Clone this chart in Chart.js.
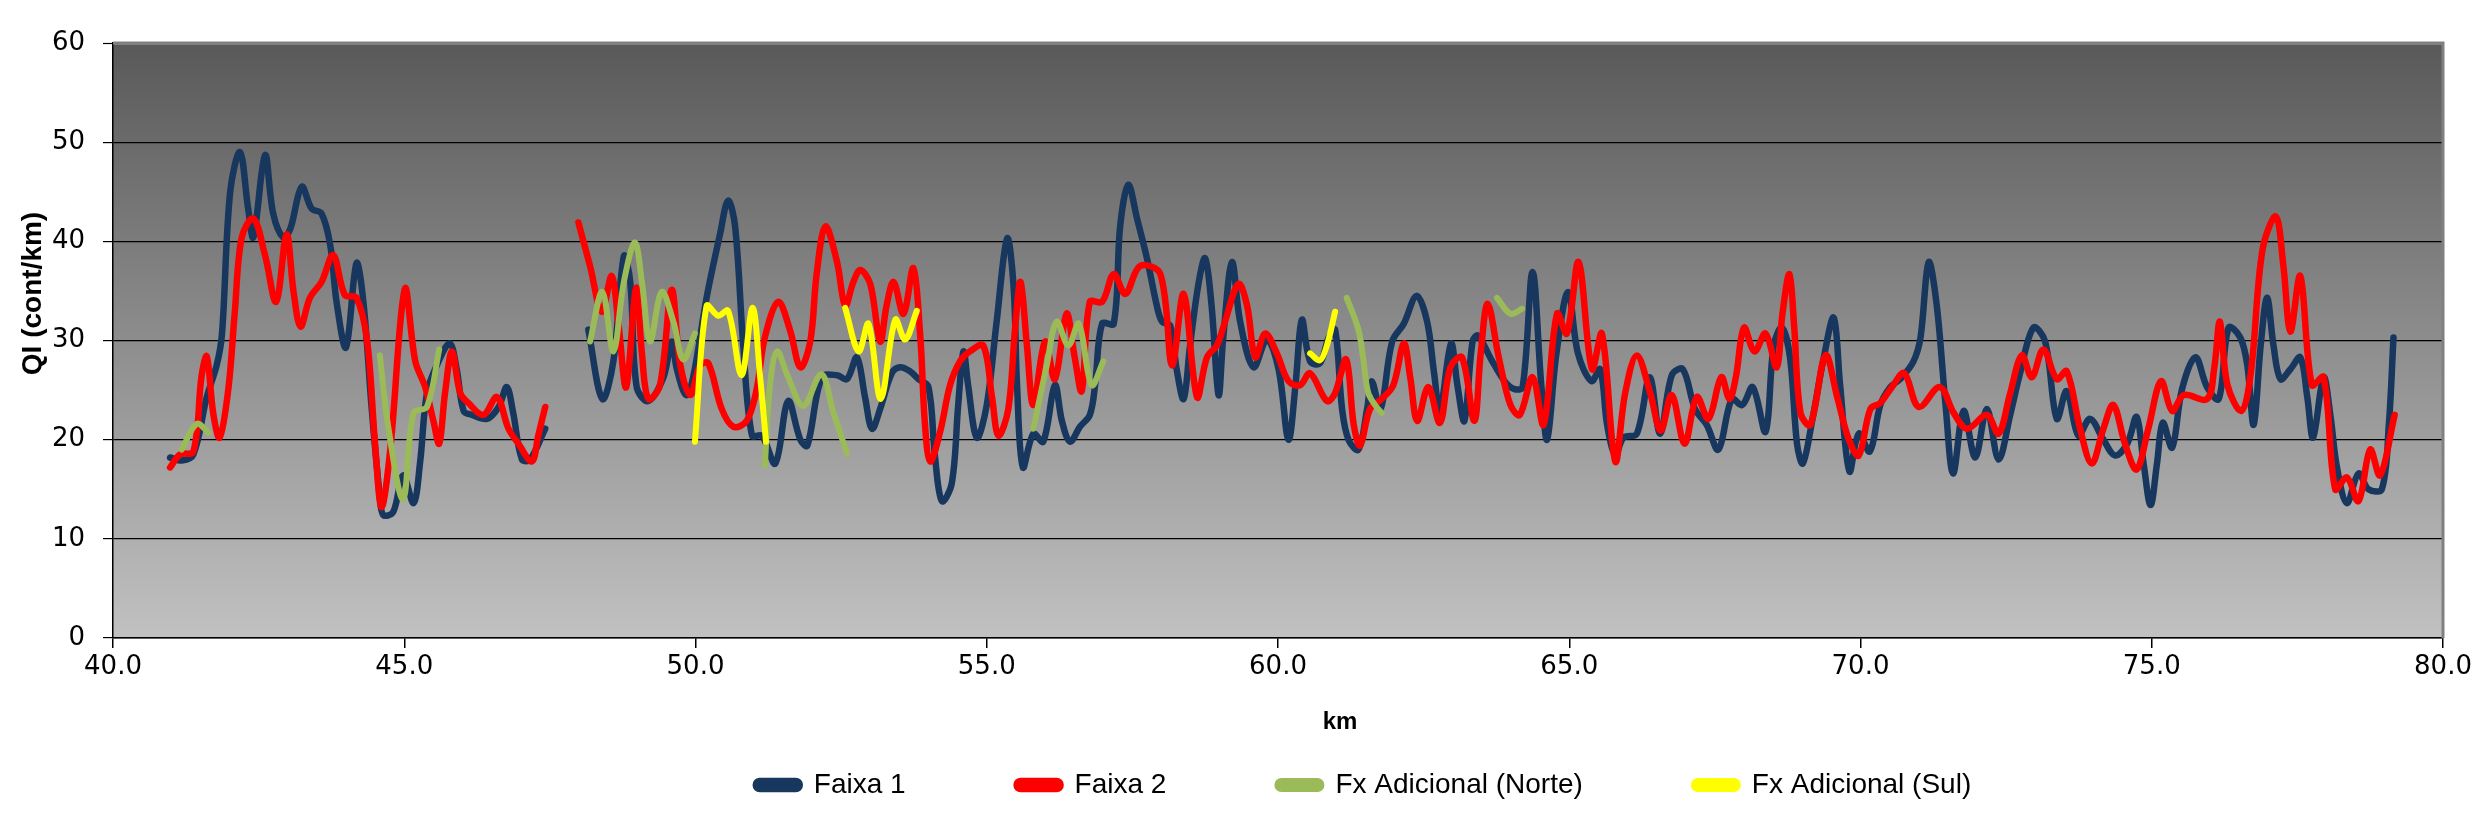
<!DOCTYPE html>
<html>
<head>
<meta charset="utf-8">
<script src="https://cdn.jsdelivr.net/npm/chart.js@4.4.1/dist/chart.umd.min.js"></script>
<style>
html,body{margin:0;padding:0;background:#ffffff;}
canvas{display:block;}
</style>
</head>
<body>
<canvas id="chart" width="2491" height="822"></canvas>
<script>
// ---------- text ----------
const xTitle = 'km';
const yTitle = 'QI (cont/km)';
const seriesNames = ['Faixa 1', 'Faixa 2', 'Fx Adicional (Norte)', 'Fx Adicional (Sul)'];
const seriesColors = ['#17375E', '#FF0000', '#9BBB59', '#FFFF00'];

// ---------- axis ranges ----------
const xMin = 40, xMax = 80, xStep = 5;
const yMin = 0, yMax = 60, yStep = 10;

// ---------- Faixa 1 ----------
const faixa1Km = [40.98,41.18,41.38,41.61,41.78,41.87,42.01,42.18,42.32,42.41,42.61,42.75,42.92,43.04,43.24,43.41,43.58,43.73,43.84,44.00,44.18,44.30,44.44,44.58,44.64,44.81,44.98,45.16,45.27,45.39,45.56,45.78,45.90,46.02,46.16,46.42,46.62,46.76,46.87,47.02,47.16,47.42,
47.80,
48.16,48.40,48.59,48.77,48.88,48.99,49.19,49.45,49.59,49.68,49.84,49.96,50.19,50.42,50.56,50.68,50.82,50.97,51.14,51.37,51.59,51.80,51.92,52.17,52.43,52.60,52.77,52.91,53.03,53.17,53.37,53.51,53.68,53.83,54.00,54.11,54.23,54.40,54.51,54.60,54.68,54.83,55.00,55.17,55.35,55.46,55.52,55.62,55.80,55.97,56.17,56.29,56.43,56.60,56.77,56.86,56.98,57.18,57.29,57.43,57.58,57.75,57.92,58.01,58.15,58.26,58.38,58.49,58.64,58.75,58.86,58.98,59.06,59.21,59.35,59.58,59.81,60.01,60.18,60.30,60.41,60.55,60.72,60.87,60.98,61.10,61.21,61.38,61.53,61.61,61.76,61.96,62.16,62.38,62.56,62.68,62.78,62.97,63.08,63.20,63.34,63.43,63.66,63.89,64.06,64.20,64.37,64.52,64.62,64.78,64.98,65.15,65.38,65.53,65.65,65.79,65.93,66.16,66.38,66.56,66.76,66.95,67.16,67.36,67.56,67.79,67.97,68.15,68.37,68.51,68.65,68.79,68.91,69.01,69.17,69.37,69.54,69.65,69.81,69.97,70.16,70.34,70.51,70.68,70.91,71.03,71.17,71.31,71.46,71.59,71.77,71.97,72.17,72.37,72.57,72.74,72.97,73.17,73.37,73.54,73.74,73.94,74.17,74.37,74.58,74.74,74.86,74.98,75.09,75.19,75.35,75.52,75.75,75.95,76.15,76.32,76.52,76.64,76.75,76.87,76.98,77.09,77.21,77.38,77.55,77.67,77.77,77.95,78.07,78.18,78.35,78.55,78.72,78.95,79.07,79.15];
const faixa1QI = [18.2,17.9,18.5,24.3,27.5,30.6,44.9,49.0,43.3,40.4,48.7,42.8,40.4,41.2,45.5,43.3,42.8,39.6,33.8,29.3,37.8,33.8,23.2,14.3,12.4,12.7,16.4,13.6,17.6,24.7,27.5,29.7,27.1,22.9,22.5,22.1,23.3,25.3,22.7,18.0,18.0,21.1,
null,
31.1,24.1,27.9,38.5,35.9,25.3,23.9,26.3,29.9,27.1,24.5,26.3,34.3,40.7,44.1,41.5,29.5,20.4,20.4,17.6,23.9,20.0,19.4,26.3,26.5,26.1,28.3,24.3,21.1,23.1,26.7,27.3,26.9,26.1,25.3,18.4,13.8,15.6,23.5,28.9,25.5,20.2,23.5,31.9,40.3,35.5,25.5,17.2,20.6,19.8,25.5,21.9,19.8,21.3,22.5,25.5,31.7,31.7,41.5,45.7,42.3,38.3,33.5,31.9,31.5,27.1,24.1,29.5,35.9,38.3,33.5,24.5,30.3,37.9,31.9,27.3,30.1,27.1,20.0,25.5,32.1,27.9,27.7,30.3,31.1,23.1,20.0,19.0,23.1,25.9,23.1,29.9,31.7,34.5,31.9,26.7,22.9,29.7,25.5,21.9,29.9,30.5,28.1,25.9,25.1,25.3,36.9,25.5,20.0,28.7,34.9,28.7,25.9,27.1,21.5,18.4,20.2,20.6,26.3,20.6,26.5,27.1,23.1,21.5,19.0,24.1,23.5,25.3,20.8,29.5,31.3,28.3,19.6,17.6,21.9,28.3,32.3,25.5,16.8,20.6,18.8,23.5,25.3,26.1,27.9,30.3,37.9,33.5,23.5,16.6,22.9,18.2,23.1,18.0,22.5,26.7,31.3,29.9,22.1,24.9,20.4,22.1,20.0,18.4,19.6,22.3,17.6,13.4,17.6,21.7,19.2,25.1,28.3,25.3,24.1,31.3,30.3,27.5,21.5,29.5,34.3,29.5,26.1,27.1,28.3,24.3,20.2,26.3,22.3,17.2,13.6,16.6,15.0,15.0,21.5,30.3];

// ---------- Faixa 2 ----------
const faixa2Km = [40.98,41.15,41.38,41.52,41.61,41.72,41.83,41.98,42.09,42.21,42.41,42.61,42.80,42.98,43.10,43.22,43.38,43.58,43.78,43.98,44.18,44.36,44.50,44.61,44.76,45.01,45.19,45.36,45.50,45.60,45.70,45.82,45.96,46.10,46.36,46.59,46.79,46.96,47.19,47.30,47.42,
47.70,
47.99,48.19,48.39,48.56,48.68,48.81,48.98,49.08,49.19,49.39,49.59,49.74,49.91,50.08,50.22,50.45,50.65,50.88,51.05,51.19,51.42,51.62,51.80,51.97,52.08,52.23,52.43,52.57,52.71,52.83,53.00,53.17,53.28,53.40,53.57,53.74,53.86,53.94,54.03,54.20,54.37,54.54,54.71,54.94,55.09,55.20,55.37,55.49,55.58,55.69,55.80,56.00,56.17,56.37,56.51,56.63,56.77,56.98,57.18,57.38,57.63,57.98,58.18,58.38,58.61,58.78,58.95,59.07,59.32,59.47,59.61,59.78,59.98,60.18,60.38,60.55,60.84,60.98,61.17,61.30,61.41,61.58,61.78,61.98,62.16,62.27,62.39,62.58,62.78,62.96,63.16,63.37,63.48,63.60,63.79,63.99,64.15,64.37,64.56,64.79,64.96,65.16,65.39,65.56,65.79,65.96,66.16,66.39,66.57,66.76,66.98,67.19,67.39,67.61,67.75,67.86,68.00,68.18,68.37,68.56,68.66,68.78,68.86,68.97,69.14,69.40,69.60,69.80,69.97,70.17,70.34,70.54,70.75,71.00,71.36,71.60,71.83,72.17,72.37,72.57,72.77,72.94,73.14,73.37,73.54,73.77,73.97,74.17,74.34,74.54,74.74,74.94,75.16,75.35,75.55,75.95,76.07,76.17,76.30,76.54,76.70,76.90,77.13,77.26,77.38,77.55,77.75,77.95,78.15,78.35,78.55,78.75,78.92,79.17];
const faixa2QI = [17.2,18.5,18.8,26.4,28.4,22.7,20.2,25.1,32.8,40.4,42.3,38.6,33.9,40.7,34.9,31.4,34.3,35.9,38.6,34.6,34.3,30.1,19.5,13.2,19.0,35.2,27.9,25.3,21.9,19.6,24.7,28.9,24.7,23.7,22.5,24.3,21.1,19.6,17.8,20.4,23.3,
null,
41.9,37.5,32.9,36.5,31.5,25.3,35.3,28.7,24.1,25.5,35.1,27.5,24.5,27.5,27.7,23.1,21.3,21.9,25.1,30.3,33.9,31.1,27.3,29.9,36.7,41.5,37.9,33.5,35.9,37.1,35.7,29.9,33.5,35.9,32.7,37.3,30.3,21.5,17.8,20.8,25.5,27.9,28.9,29.5,24.3,20.4,23.1,31.5,35.9,29.5,23.5,29.9,26.1,32.7,28.3,24.9,33.9,33.9,36.7,34.7,37.5,36.7,27.5,34.7,24.3,28.3,29.5,31.5,35.7,33.5,28.3,30.7,28.7,25.9,25.5,26.7,23.9,24.7,28.1,21.5,19.4,23.1,24.1,25.5,29.7,26.3,21.9,25.3,21.7,27.3,28.3,21.9,28.7,33.7,28.3,23.5,22.5,26.3,21.5,32.7,30.7,37.9,27.1,30.7,17.8,24.7,28.5,24.7,20.9,24.5,19.6,24.3,22.1,26.3,24.1,26.3,31.3,28.9,30.7,27.3,32.7,36.7,31.5,22.7,21.5,28.5,24.3,20.0,18.4,23.1,23.7,25.3,26.7,23.3,25.3,22.7,21.1,22.5,20.6,24.7,28.5,26.3,29.1,26.1,26.9,21.1,17.6,21.1,23.5,19.6,17.0,21.1,25.9,22.9,24.5,24.1,27.1,31.9,25.5,22.9,26.7,39.1,42.5,37.5,30.9,36.5,25.5,26.3,15.0,16.2,13.8,19.0,16.4,22.5];

// ---------- Fx Adicional (Norte) ----------
const norteKm = [41.18,41.44,41.64, 43.00, 44.58,44.73,44.98,45.16,45.39,45.60, 47.00, 48.19,48.40,48.59,48.77,48.96,49.08,49.22,49.42,49.62,49.79,49.99, 50.60, 51.19,51.28,51.40,51.59,51.85,52.16,52.37,52.60, 54.00, 55.80,56.03,56.20,56.40,56.58,56.80,57.00, 59.00, 61.18,61.38,61.46,61.55,61.69,61.78, 62.80, 63.76,63.99,64.19];
const norteQI = [19.0,21.6,20.7, null, 28.5,21.1,14.0,22.7,23.3,29.1, null, 29.9,34.9,28.9,35.9,39.9,35.9,29.9,34.9,31.9,28.1,30.7, null, 17.4,25.5,28.9,26.3,23.4,26.6,22.7,18.6, null, 21.1,27.5,31.9,29.5,31.7,25.5,27.9, null, 34.3,31.1,28.3,24.7,23.3,22.7, null, 34.3,32.7,33.2];

// ---------- Fx Adicional (Sul) ----------
const sulKm = [49.99,50.19,50.39,50.56,50.79,50.98,51.11,51.21, 51.90, 52.57,52.80,52.97,53.18,53.43,53.60,53.80, 57.00, 60.55,60.72,60.84,60.98];
const sulQI = [19.8,33.5,32.5,33.0,26.5,33.3,26.3,19.8, null, 33.3,28.9,31.7,24.1,32.1,30.1,33.0, null, 28.7,28.0,29.5,32.9];

function toPoints(km, qi) { return km.map((k, i) => ({ x: k, y: qi[i] })); }

const seriesKm = [faixa1Km, faixa2Km, norteKm, sulKm];
const seriesQI = [faixa1QI, faixa2QI, norteQI, sulQI];
const seriesWidth = [6.5, 6.5, 6, 6];

const datasets = seriesNames.map((name, i) => ({
  label: name,
  data: toPoints(seriesKm[i], seriesQI[i]),
  borderColor: seriesColors[i],
  backgroundColor: seriesColors[i],
  borderWidth: seriesWidth[i],
  pointRadius: 0,
  pointHoverRadius: 0,
  tension: 0.35,
  fill: false,
  spanGaps: false,
  borderCapStyle: 'round',
  borderJoinStyle: 'round',
  order: seriesNames.length - i
}));

// plot-area gradient and frame
const plotBackground = {
  id: 'plotBackground',
  beforeDraw(chart) {
    const { ctx, chartArea: a } = chart;
    const g = ctx.createLinearGradient(0, a.top, 0, a.bottom);
    g.addColorStop(0, '#595959');
    g.addColorStop(1, '#c1c1c1');
    ctx.save();
    ctx.fillStyle = g;
    ctx.fillRect(a.left, a.top, a.right - a.left, a.bottom - a.top);
    ctx.restore();
  },
  beforeDatasetsDraw(chart) {
    const { ctx, chartArea: a } = chart;
    ctx.save();
    ctx.strokeStyle = '#808080';
    ctx.lineWidth = 3;
    ctx.beginPath();
    ctx.moveTo(a.left, a.top);
    ctx.lineTo(a.right, a.top);
    ctx.lineTo(a.right, a.bottom);
    ctx.stroke();
    ctx.restore();
  }
};

// axis titles placed like the original
const axisTitles = {
  id: 'axisTitles',
  afterDraw(chart) {
    const { ctx, chartArea: a } = chart;
    ctx.save();
    ctx.fillStyle = '#000000';
    ctx.textAlign = 'center';
    ctx.textBaseline = 'middle';
    ctx.font = 'bold 24px "Liberation Sans", Arial, sans-serif';
    ctx.fillText(xTitle, (a.left + a.right) / 2 + 62, a.bottom + 84);
    ctx.translate(a.left - 80, (a.top + a.bottom) / 2 - 47);
    ctx.rotate(-Math.PI / 2);
    ctx.font = 'bold 28px "Liberation Sans", Arial, sans-serif';
    ctx.fillText(yTitle, 0, 0);
    ctx.restore();
  }
};

// place the legend row like the original
const legendPlacement = {
  id: 'legendPlacement',
  afterLayout(chart) {
    const lg = chart.legend;
    if (!lg) return;
    lg.left += 142;
    lg.right += 142;
    lg.top = 660;
    lg.bottom = chart.height;
    lg.height = lg.bottom - lg.top;
  }
};

Chart.defaults.font.family = '"DejaVu Sans", Verdana, sans-serif';
Chart.defaults.color = '#000000';

new Chart(document.getElementById('chart'), {
  type: 'line',
  data: { datasets },
  plugins: [plotBackground, axisTitles, legendPlacement],
  options: {
    responsive: false,
    animation: false,
    devicePixelRatio: 1,
    layout: { padding: { top: 43, right: 48, left: 0, bottom: 0 } },
    plugins: {
      tooltip: { enabled: false },
      legend: {
        position: 'bottom',
        maxHeight: 124,
        labels: {
          sort: (a, b) => a.datasetIndex - b.datasetIndex,
          boxWidth: 44,
          boxHeight: 8,
          useBorderRadius: true,
          borderRadius: 4,
          padding: 111,
          color: '#000000',
          font: { family: '"Liberation Sans", Arial, sans-serif', size: 28 }
        }
      }
    },
    scales: {
      x: {
        type: 'linear',
        min: xMin,
        max: xMax,
        afterFit(scale) { scale.height = 60; },
        border: { display: true, color: '#000000', width: 1.5 },
        grid: { drawOnChartArea: false, drawTicks: true, tickLength: 10, color: '#000000', lineWidth: 1.5 },
        ticks: {
          stepSize: xStep,
          autoSkip: false,
          maxRotation: 0,
          padding: 4,
          color: '#000000',
          font: { size: 26 },
          callback: (v) => Number(v).toFixed(1)
        }
      },
      y: {
        min: yMin,
        max: yMax,
        afterFit(scale) { scale.width = 113; },
        border: { display: true, color: '#000000', width: 1.5 },
        grid: {
          color: (c) => (c.tick && c.tick.value === yMax) ? '#808080' : '#000000',
          lineWidth: (c) => (c.tick && c.tick.value === yMax) ? 3 : 1.2,
          tickColor: '#000000',
          tickWidth: 1.2,
          tickLength: 10,
          drawTicks: true
        },
        ticks: {
          stepSize: yStep,
          padding: 18,
          color: '#000000',
          font: { size: 26 }
        }
      }
    }
  }
});
</script>
</body>
</html>
